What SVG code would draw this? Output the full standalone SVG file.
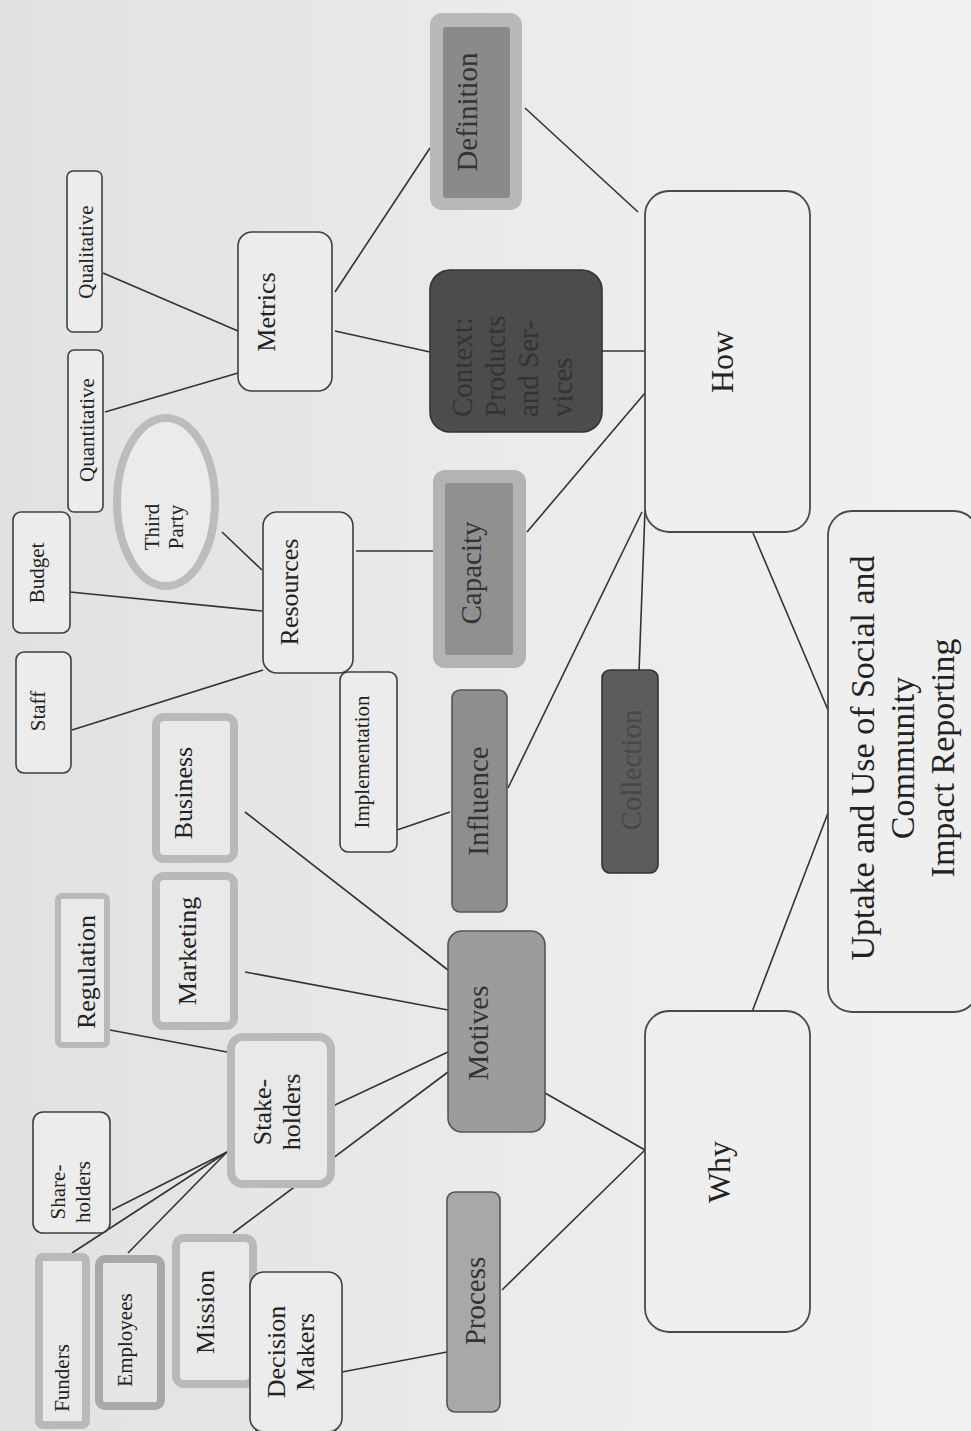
<svg xmlns="http://www.w3.org/2000/svg" width="971" height="1431" viewBox="0 0 971 1431">
<defs>
<linearGradient id="bg" x1="0" y1="0" x2="1" y2="0">
<stop offset="0" stop-color="#e1e1e1"/>
<stop offset="0.5" stop-color="#eaeaea"/>
<stop offset="1" stop-color="#f1f1f1"/>
</linearGradient>
<style>
text{font-family:"Liberation Serif","Times New Roman",serif;fill:#222;text-anchor:middle;dominant-baseline:central}
.plain{fill:#ececec;stroke:#3f3f3f;stroke-width:1.6}
.big{fill:#efefef;stroke:#4a4a4a;stroke-width:1.8}
.halo{fill:#e9e9e9;stroke:#b9b9b9;stroke-width:8}
.halo2{fill:#e6e6e6;stroke:#a9a9a9;stroke-width:8}
.s{font-size:21px}
.m{font-size:26px}
.l{font-size:29px}
.xl{font-size:32px}
.xxl{font-size:34px}
.g{fill:#333}
.dk{fill:#333333}
.dk2{fill:#474747}
#connectors line{stroke:#333;stroke-width:1.6}
</style>
</defs>
<rect width="971" height="1431" fill="url(#bg)"/>

<g id="connectors">
<line x1="103" y1="273" x2="238" y2="331"/>
<line x1="105" y1="412" x2="238" y2="373"/>
<line x1="335" y1="292" x2="430" y2="148"/>
<line x1="335" y1="331" x2="430" y2="352"/>
<line x1="525" y1="108" x2="638" y2="212"/>
<line x1="602" y1="351" x2="645" y2="351"/>
<line x1="527" y1="532" x2="645" y2="393"/>
<line x1="356" y1="551" x2="433" y2="551"/>
<line x1="508" y1="788" x2="642" y2="512"/>
<line x1="639" y1="672" x2="645" y2="510"/>
<line x1="753" y1="533" x2="828" y2="710"/>
<line x1="828" y1="813" x2="752" y2="1012"/>
<line x1="545" y1="1093" x2="645" y2="1150"/>
<line x1="502" y1="1290" x2="645" y2="1150"/>
<line x1="222" y1="532" x2="262" y2="570"/>
<line x1="70" y1="592" x2="262" y2="611"/>
<line x1="72" y1="730" x2="263" y2="670"/>
<line x1="397" y1="830" x2="450" y2="812"/>
<line x1="245" y1="812" x2="448" y2="970"/>
<line x1="245" y1="972" x2="448" y2="1010"/>
<line x1="110" y1="1030" x2="227" y2="1052"/>
<line x1="320" y1="1112" x2="448" y2="1052"/>
<line x1="233" y1="1233" x2="448" y2="1072"/>
<line x1="112" y1="1210" x2="227" y2="1152"/>
<line x1="72" y1="1253" x2="227" y2="1152"/>
<line x1="128" y1="1253" x2="227" y2="1152"/>
<line x1="342" y1="1372" x2="447" y2="1352"/>
</g>

<g id="qualitative"><rect class="plain" x="67" y="171" width="35" height="161" rx="6"/><text class="s" transform="translate(86,252) rotate(-90)">Qualitative</text></g>
<g id="quantitative"><rect class="plain" x="68" y="350" width="35" height="162" rx="6"/><text class="s" transform="translate(87,430) rotate(-90)">Quantitative</text></g>
<g id="metrics"><rect class="plain" x="238" y="232" width="94" height="159" rx="14"/><text class="m" transform="translate(266,312) rotate(-90)">Metrics</text></g>

<g id="definition"><rect x="430" y="13" width="92" height="197" rx="12" fill="#b8b8b8"/><rect x="443" y="27" width="67" height="171" rx="3" fill="#8a8a8a"/><text class="l g" transform="translate(467,112) rotate(-90)">Definition</text></g>

<g id="context"><rect x="430" y="270" width="172" height="162" rx="20" fill="#4c4c4c" stroke="#333" stroke-width="1.6"/><text class="l dk" style="text-anchor:start" transform="translate(462,417) rotate(-90)"><tspan x="0" y="0">Context:</tspan><tspan x="0" dy="33">Products</tspan><tspan x="0" dy="33">and Ser-</tspan><tspan x="0" dy="34">vices</tspan></text></g>

<g id="capacity"><rect x="433" y="470" width="93" height="198" rx="12" fill="#b3b3b3"/><rect x="445" y="483" width="68" height="172" rx="3" fill="#909090"/><text class="l g" transform="translate(471,573) rotate(-90)">Capacity</text></g>

<g id="how"><rect class="big" x="645" y="191" width="165" height="341" rx="24"/><text class="xl" transform="translate(722,362) rotate(-90)">How</text></g>

<g id="uptake"><rect class="big" x="828" y="511" width="150" height="501" rx="24"/><text class="xxl" transform="translate(862,758) rotate(-90)"><tspan x="0" y="0">Uptake and Use of Social and</tspan><tspan x="0" dy="40">Community</tspan><tspan x="0" dy="40">Impact Reporting</tspan></text></g>

<g id="why"><rect class="big" x="645" y="1011" width="165" height="321" rx="24"/><text class="xl" transform="translate(719,1172) rotate(-90)">Why</text></g>

<g id="collection"><rect x="602" y="670" width="56" height="203" rx="8" fill="#5c5c5c" stroke="#333" stroke-width="1.6"/><text class="l dk2" transform="translate(631,770) rotate(-90)">Collection</text></g>

<g id="influence"><rect x="452" y="690" width="55" height="222" rx="8" fill="#8e8e8e" stroke="#555" stroke-width="1.6"/><text class="l g" transform="translate(478,801) rotate(-90)">Influence</text></g>

<g id="motives"><rect x="448" y="931" width="97" height="201" rx="14" fill="#9c9c9c" stroke="#555" stroke-width="1.6"/><text class="l g" transform="translate(478,1033) rotate(-90)">Motives</text></g>

<g id="process"><rect x="447" y="1192" width="53" height="220" rx="8" fill="#a8a8a8" stroke="#555" stroke-width="1.6"/><text class="l g" transform="translate(475,1301) rotate(-90)">Process</text></g>

<g id="implementation"><rect class="plain" x="340" y="672" width="57" height="180" rx="8"/><text class="s" transform="translate(362,762) rotate(-90)">Implementation</text></g>

<g id="resources"><rect class="plain" x="263" y="512" width="90" height="161" rx="14"/><text class="m" transform="translate(289,592) rotate(-90)">Resources</text></g>

<g id="third-party"><ellipse cx="166" cy="502" rx="49" ry="84" fill="#ebebeb" stroke="#bcbcbc" stroke-width="8"/><text class="s" transform="translate(152,527) rotate(-90)"><tspan x="0" y="0">Third</tspan><tspan x="0" dy="24">Party</tspan></text></g>

<g id="budget"><rect class="plain" x="13" y="512" width="57" height="121" rx="8"/><text class="s" transform="translate(37,573) rotate(-90)">Budget</text></g>
<g id="staff"><rect class="plain" x="16" y="652" width="55" height="121" rx="8"/><text class="s" transform="translate(38,711) rotate(-90)">Staff</text></g>

<g id="business"><rect class="halo" x="156" y="717" width="78" height="142" rx="8"/><text class="m" transform="translate(183,793) rotate(-90)">Business</text></g>
<g id="marketing"><rect class="halo" x="156" y="876" width="78" height="150" rx="8"/><text class="m" transform="translate(187,951) rotate(-90)">Marketing</text></g>
<g id="regulation"><rect class="halo" x="58" y="896" width="49" height="149" rx="4" style="stroke-width:6"/><text class="m" transform="translate(86,972) rotate(-90)">Regulation</text></g>
<g id="stakeholders"><rect class="halo" x="231" y="1037" width="100" height="147" rx="12"/><text class="m" transform="translate(262,1112) rotate(-90)"><tspan x="0" y="0">Stake-</tspan><tspan x="0" dy="29">holders</tspan></text></g>
<g id="shareholders"><rect class="plain" x="33" y="1112" width="77" height="121" rx="10"/><text class="s" transform="translate(58,1192) rotate(-90)"><tspan x="0" y="0">Share-</tspan><tspan x="0" dy="25">holders</tspan></text></g>

<g id="funders"><rect class="halo" x="39" y="1257" width="47" height="168" rx="4"/><text class="s" transform="translate(62,1378) rotate(-90)">Funders</text></g>
<g id="employees"><rect class="halo2" x="99" y="1259" width="62" height="147" rx="6"/><text class="s" transform="translate(125,1340) rotate(-90)">Employees</text></g>
<g id="mission"><rect class="halo" x="176" y="1238" width="77" height="146" rx="8"/><text class="m" transform="translate(205,1312) rotate(-90)">Mission</text></g>
<g id="decision-makers"><rect class="plain" x="250" y="1272" width="92" height="160" rx="14"/><text class="m" transform="translate(276,1352) rotate(-90)"><tspan x="0" y="0">Decision</tspan><tspan x="0" dy="29">Makers</tspan></text></g>
</svg>
